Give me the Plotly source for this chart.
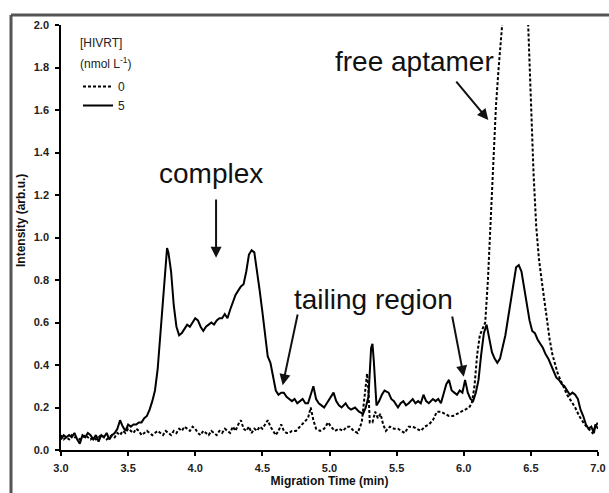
import plotly.graph_objects as go

# ---- data ----
time_5nM = [3.00,3.02,3.04,3.06,3.08,3.10,3.12,3.14,3.16,3.18,3.20,3.22,3.24,3.26,3.28,3.30,3.32,3.34,3.36,3.38,
            3.40,3.42,3.44,3.46,3.48,3.50,3.52,3.54,3.56,3.58,3.60,3.62,3.64,3.66,3.68,3.70,3.72,3.74,3.76,3.78,
            3.79,3.80,3.82,3.84,3.86,3.88,3.90,3.92,3.94,3.96,3.98,4.00,4.02,4.04,4.06,4.08,4.10,4.12,4.14,4.16,
            4.18,4.20,4.22,4.24,4.26,4.28,4.30,4.32,4.34,4.36,4.38,4.40,4.42,4.44,4.46,4.48,4.50,4.52,4.54,4.56,
            4.58,4.60,4.62,4.64,4.66,4.68,4.70,4.72,4.74,4.76,4.78,4.80,4.82,4.84,4.86,4.88,4.90,4.92,4.94,4.96,
            4.98,5.00,5.03,5.05,5.07,5.09,5.12,5.14,5.16,5.19,5.22,5.25,5.27,5.29,5.31,5.32,5.33,5.35,5.37,5.39,
            5.41,5.44,5.46,5.48,5.51,5.53,5.55,5.57,5.59,5.62,5.64,5.66,5.68,5.70,5.72,5.74,5.77,5.79,5.81,5.83,
            5.85,5.87,5.89,5.91,5.93,5.95,5.97,5.99,6.01,6.03,6.05,6.07,6.09,6.11,6.13,6.15,6.17,6.19,6.21,6.23,
            6.25,6.27,6.29,6.31,6.33,6.35,6.37,6.39,6.41,6.43,6.45,6.47,6.49,6.51,6.53,6.55,6.57,6.59,6.61,6.63,
            6.65,6.67,6.69,6.71,6.73,6.75,6.77,6.79,6.81,6.83,6.85,6.87,6.89,6.91,6.93,6.95,6.97,6.98,7.00]
intensity_5nM = [0.05,0.07,0.06,0.07,0.06,0.08,0.05,0.03,0.07,0.06,0.08,0.07,0.05,0.07,0.04,0.07,0.06,0.08,0.05,0.07,
                 0.08,0.10,0.14,0.11,0.09,0.12,0.11,0.12,0.12,0.13,0.13,0.15,0.16,0.19,0.23,0.28,0.38,0.55,0.74,0.90,
                 0.95,0.93,0.84,0.68,0.58,0.54,0.55,0.57,0.59,0.58,0.60,0.62,0.61,0.58,0.56,0.58,0.59,0.60,0.59,0.61,
                 0.62,0.62,0.64,0.62,0.66,0.70,0.73,0.75,0.77,0.78,0.84,0.92,0.94,0.93,0.85,0.75,0.65,0.53,0.44,0.41,
                 0.34,0.28,0.26,0.27,0.27,0.25,0.24,0.23,0.24,0.22,0.23,0.24,0.22,0.22,0.26,0.30,0.24,0.22,0.21,0.20,
                 0.22,0.24,0.27,0.23,0.21,0.20,0.22,0.20,0.19,0.20,0.18,0.17,0.20,0.25,0.48,0.50,0.42,0.21,0.23,0.26,
                 0.28,0.27,0.24,0.23,0.20,0.22,0.23,0.21,0.22,0.24,0.22,0.23,0.22,0.26,0.23,0.22,0.24,0.23,0.24,0.22,
                 0.26,0.31,0.33,0.28,0.27,0.26,0.28,0.27,0.33,0.27,0.24,0.23,0.27,0.33,0.45,0.55,0.59,0.53,0.46,0.43,
                 0.41,0.43,0.48,0.54,0.62,0.71,0.78,0.86,0.87,0.84,0.77,0.68,0.61,0.56,0.55,0.52,0.50,0.48,0.45,0.43,
                 0.40,0.37,0.34,0.33,0.31,0.30,0.28,0.26,0.27,0.26,0.24,0.19,0.16,0.12,0.10,0.11,0.08,0.12,0.10]

time_0nM = [3.00,3.02,3.04,3.06,3.08,3.10,3.12,3.14,3.16,3.18,3.20,3.22,3.24,3.26,3.28,3.30,3.32,3.34,3.36,3.38,
            3.40,3.42,3.44,3.46,3.48,3.50,3.52,3.54,3.56,3.58,3.60,3.62,3.64,3.66,3.68,3.70,3.72,3.74,3.76,3.78,
            3.80,3.82,3.84,3.86,3.88,3.90,3.92,3.94,3.96,3.98,4.00,4.02,4.04,4.06,4.08,4.10,4.12,4.14,4.16,4.18,
            4.20,4.22,4.24,4.26,4.28,4.30,4.32,4.34,4.36,4.38,4.40,4.42,4.44,4.46,4.48,4.50,4.52,4.54,4.56,4.58,
            4.60,4.62,4.64,4.66,4.68,4.70,4.72,4.75,4.78,4.81,4.84,4.86,4.88,4.90,4.93,4.96,4.99,5.01,5.04,5.07,
            5.10,5.13,5.15,5.18,5.21,5.24,5.26,5.28,5.29,5.30,5.32,5.34,5.36,5.38,5.40,5.42,5.45,5.48,5.51,5.54,
            5.56,5.59,5.62,5.65,5.68,5.71,5.74,5.77,5.80,5.83,5.86,5.89,5.92,5.95,5.98,6.01,6.04,6.06,6.08,6.10,
            6.12,6.14,6.16,6.18,6.20,6.22,6.24,6.26,6.28,6.30,6.34,6.39,6.44,6.46,6.48,6.50,6.52,6.54,6.56,6.58,
            6.60,6.62,6.64,6.66,6.68,6.70,6.72,6.74,6.77,6.80,6.83,6.86,6.88,6.90,6.93,6.96,6.98,7.00]
intensity_0nM = [0.07,0.05,0.06,0.05,0.07,0.06,0.06,0.05,0.06,0.07,0.06,0.05,0.06,0.05,0.06,0.07,0.06,0.05,0.06,0.07,
                 0.06,0.08,0.07,0.09,0.08,0.10,0.09,0.08,0.10,0.09,0.07,0.08,0.09,0.08,0.07,0.08,0.09,0.08,0.07,0.09,
                 0.08,0.07,0.09,0.08,0.10,0.09,0.11,0.10,0.09,0.11,0.10,0.08,0.07,0.09,0.08,0.07,0.09,0.08,0.07,0.09,
                 0.08,0.10,0.09,0.08,0.11,0.09,0.12,0.14,0.10,0.09,0.11,0.08,0.10,0.09,0.11,0.10,0.12,0.14,0.11,0.09,
                 0.07,0.09,0.12,0.09,0.08,0.08,0.09,0.09,0.11,0.13,0.15,0.20,0.14,0.10,0.09,0.10,0.13,0.11,0.09,0.10,
                 0.09,0.11,0.11,0.09,0.08,0.13,0.25,0.36,0.28,0.13,0.13,0.18,0.15,0.17,0.12,0.09,0.11,0.10,0.10,0.09,
                 0.08,0.11,0.11,0.10,0.09,0.11,0.12,0.14,0.18,0.18,0.17,0.16,0.16,0.17,0.18,0.19,0.20,0.22,0.30,0.45,
                 0.54,0.57,0.60,0.80,1.10,1.40,1.62,1.80,1.98,2.20,2.60,2.80,2.60,2.25,2.00,1.65,1.30,1.05,0.90,0.80,
                 0.70,0.60,0.52,0.45,0.40,0.36,0.33,0.30,0.26,0.23,0.20,0.16,0.14,0.12,0.10,0.08,0.11,0.13]

x_ticks = [3.0, 3.5, 4.0, 4.5, 5.0, 5.5, 6.0, 6.5, 7.0]
y_ticks = [0.0, 0.2, 0.4, 0.6, 0.8, 1.0, 1.2, 1.4, 1.6, 1.8, 2.0]
series_names = ["0", "5"]

FONT = "Liberation Sans, Arial, sans-serif"

fig = go.Figure()
fig.add_trace(go.Scatter(x=time_0nM, y=intensity_0nM, mode="lines", name=series_names[0],
                         line=dict(color="black", width=2, dash="3px,2px")))
fig.add_trace(go.Scatter(x=time_5nM, y=intensity_5nM, mode="lines", name=series_names[1],
                         line=dict(color="black", width=2)))

tickfont = dict(family=FONT, size=11, color="#222", weight="bold")
fig.update_xaxes(range=[3, 7], tickvals=x_ticks, ticktext=[f"{v:.1f}" for v in x_ticks],
                 ticks="outside", ticklen=4, tickwidth=1.5, tickcolor="black",
                 showline=True, linecolor="black", linewidth=1.5, showgrid=False, zeroline=False,
                 tickfont=tickfont, ticklabelstandoff=3, automargin=False,
                 title=dict(text="Migration Time (min)", font=dict(family=FONT, size=12, color="#111", weight="bold"),
                            standoff=3))
fig.update_yaxes(range=[0, 2], tickvals=y_ticks, ticktext=[f"{v:.1f}" for v in y_ticks],
                 ticks="outside", ticklen=4, tickwidth=1.5, tickcolor="black",
                 showline=True, linecolor="black", linewidth=1.5, showgrid=False, zeroline=False,
                 tickfont=tickfont, ticklabelstandoff=4, automargin=False)

big = dict(family=FONT, size=28, color="#111")
ann = [
    dict(x=4.12, y=1.30, text="complex", showarrow=False, font=big),
    dict(x=5.33, y=0.71, text="tailing region", showarrow=False, font=big),
    dict(x=5.63, y=1.83, text="free aptamer", showarrow=False, font=big),
    dict(xref="paper", yref="paper", x=-40/537, y=(450-221)/425, text="Intensity (arb.u.)", textangle=-90,
         xanchor="center", yanchor="middle",
         showarrow=False, font=dict(family=FONT, size=12, color="#111", weight="bold")),
    dict(xref="paper", yref="paper", x=40/537, y=(450-43)/425, text="[HIVRT]", showarrow=False,
         xanchor="center", yanchor="middle", font=dict(family=FONT, size=12, color="#222")),
    dict(xref="paper", yref="paper", x=44/537, y=(450-63)/425, text="(nmol L<sup>-1</sup>)", showarrow=False,
         xanchor="center", yanchor="middle", font=dict(family=FONT, size=12, color="#222")),
]
arrows = [
    ((4.155, 1.186), (4.155, 0.905)),
    ((4.765, 0.645), (4.651, 0.305)),
    ((5.912, 0.635), (6.000, 0.345)),
    ((5.935, 1.741), (6.183, 1.553)),
]
for (tx, ty), (hx, hy) in arrows:
    ann.append(dict(x=hx, y=hy, ax=tx, ay=ty, axref="x", ayref="y", xref="x", yref="y",
                    text="", showarrow=True, arrowhead=2, arrowsize=1.1, arrowwidth=2, arrowcolor="#111"))

# outer figure frame (left and top edges)
shapes = [
    dict(type="line", xref="paper", yref="paper", x0=-50/537, x1=-50/537, y0=435/425, y1=-43/425,
         line=dict(color="#555", width=3)),
    dict(type="line", xref="paper", yref="paper", x0=-50/537, x1=548/537, y0=435/425, y1=435/425,
         line=dict(color="#555", width=3)),
]

fig.update_layout(
    width=609, height=493,
    margin=dict(l=61, r=11, t=25, b=43, autoexpand=False),
    paper_bgcolor="white", plot_bgcolor="white",
    font=dict(family=FONT, size=11, color="#111"),
    annotations=ann, shapes=shapes,
    showlegend=True,
    legend=dict(x=(78-61)/537, y=(450-72)/425, xanchor="left", yanchor="top", bgcolor="rgba(0,0,0,0)",
                font=dict(family=FONT, size=12, color="#222"),
                tracegroupgap=0, itemwidth=30),
)

fig.write_html("out.html")
